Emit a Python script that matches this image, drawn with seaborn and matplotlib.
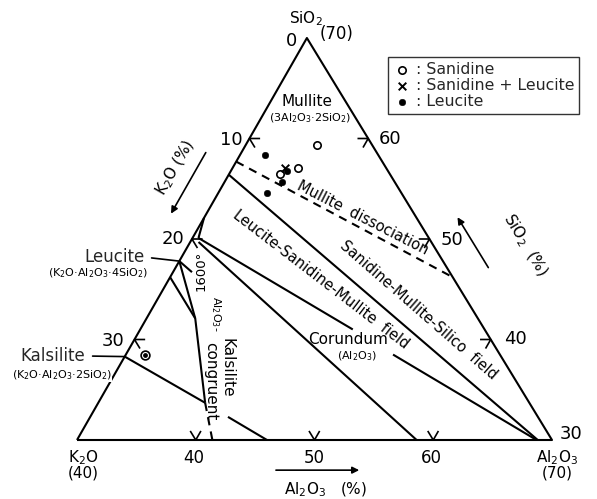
import numpy as np
import pandas as pd
import matplotlib
matplotlib.use("Agg")
import matplotlib.pyplot as plt
import seaborn as sns

# Compositions (wt%): K2O, Al2O3, SiO2
sanidine_k2o = [4.6, 7.4, 9.2]
sanidine_al2o3 = [36.0, 35.5, 34.3]
sanidine_sio2 = [59.4, 57.1, 56.5]

mixed_k2o = [8.5]
mixed_al2o3 = [34.4]
mixed_sio2 = [57.1]

leucite_k2o = [9.5, 9.5, 11.3, 8.5]
leucite_al2o3 = [32.1, 34.8, 34.1, 34.7]
leucite_sio2 = [58.4, 55.7, 54.6, 56.8]

kals_sample = (29.9, 31.6, 38.5)

# triangle corners (K2O, Al2O3, SiO2)
corners = [(40, 30, 30), (0, 70, 30), (0, 30, 70), (40, 30, 30)]

# phase boundaries, each a list of (K2O, Al2O3, SiO2)
mullite_dissoc = [(12.3, 30.0, 57.7), (0.0, 53.8, 46.2)]
silica_boundary = [(13.6, 30.0, 56.4), (1.2, 68.8, 30.0)]
mullite_upper = [(19.4, 30.5, 50.1), (11.1, 47.9, 41.0)]
mullite_lower = [(9.0, 52.5, 38.5), (1.3, 68.7, 30.0)]
corundum_line = [(19.6, 30.7, 49.7), (11.4, 58.6, 30.0)]
short_line = [(17.9, 30.0, 52.1), (19.4, 30.5, 50.1)]
isotherm = [(22.2, 30.0, 47.8), (23.8, 34.1, 42.1), (27.3, 39.0, 33.7)]
congruent = [(27.3, 39.0, 33.7), (28.6, 41.4, 30.0)]
leucite_line = [(23.8, 30.0, 46.2), (23.8, 34.1, 42.1)]
leucite_stub = [(22.2, 30.0, 47.8), (21.7, 31.6, 46.7)]
kalsilite_line = [(31.7, 30.0, 38.3), (27.3, 39.0, 33.7)]
kalsilite_line2 = [(26.1, 41.6, 32.3), (24.0, 46.0, 30.0)]

leucite_pt = (22.2, 30.0, 47.8)
kalsilite_pt = (31.7, 30.0, 38.3)

k2o_ticks = [10, 20, 30]
sio2_ticks = [60, 50, 40]
al2o3_ticks = [40, 50, 60]

APEX_X = 0.484


def tern(k2o, al2o3, sio2):
    k2o = np.asarray(k2o, float)
    al2o3 = np.asarray(al2o3, float)
    sio2 = np.asarray(sio2, float)
    tot = k2o + al2o3 + sio2
    s = (sio2 * 100 / tot - 30) / 40
    a = (al2o3 * 100 / tot - 30) / 40
    return a + APEX_X * s, s


def draw(ax, pts, **kw):
    k, a, s = zip(*pts)
    x, y = tern(k, a, s)
    ax.plot(x, y, color="black", solid_capstyle="butt", **kw)


sns.set_theme(style="white")
plt.rcParams["font.family"] = ["DejaVu Sans"]

fig = plt.figure(figsize=(5.97, 4.99), dpi=100)
ax = fig.add_axes([77 / 597, 59 / 499, 475 / 597, 402 / 499])
ax.set_xlim(0, 1)
ax.set_ylim(0, 1)
ax.axis("off")

lw = 1.5
draw(ax, corners, lw=lw, clip_on=False)
for seg in [silica_boundary, mullite_upper, mullite_lower, corundum_line,
            short_line, isotherm, leucite_line, leucite_stub,
            kalsilite_line, kalsilite_line2]:
    draw(ax, seg, lw=lw)
draw(ax, mullite_dissoc, lw=lw, ls=(0, (4, 3)))
draw(ax, congruent, lw=lw, ls=(0, (4, 3)))

# little chevron ticks
d = 0.9
for t in k2o_ticks:
    draw(ax, [(t - d, 30 + d, 70 - t), (t, 30, 70 - t), (t, 30 + d, 70 - t - d)], lw=1.2)
for t in sio2_ticks:
    draw(ax, [(d, 100 - t - d, t), (0, 100 - t, t), (d, 100 - t, t - d)], lw=1.2)
for t in al2o3_ticks:
    draw(ax, [(70 - t, t - d, 30 + d), (70 - t, t, 30), (70 - t - d, t, 30 + d)], lw=1.2)

# measured points
sx, sy = tern(sanidine_k2o, sanidine_al2o3, sanidine_sio2)
mx, my = tern(mixed_k2o, mixed_al2o3, mixed_sio2)
lx, ly = tern(leucite_k2o, leucite_al2o3, leucite_sio2)
pts = pd.DataFrame({"x": sx, "y": sy})
sns.scatterplot(data=pts, x="x", y="y", marker="o", s=28, facecolor="white",
                edgecolor="black", linewidth=1.2, label=": Sanidine", ax=ax, zorder=5)
sns.scatterplot(x=mx, y=my, marker="x", s=30, color="black", linewidth=1.4,
                label=": Sanidine + Leucite", ax=ax, zorder=6)
sns.scatterplot(x=lx, y=ly, marker="o", s=22, color="black", edgecolor="black",
                label=": Leucite", ax=ax, zorder=5)
kx, ky = tern(*kals_sample)
ax.scatter(kx, ky, s=40, facecolor="white", edgecolor="black", linewidth=1.2, zorder=5)
ax.scatter(kx, ky, s=6, color="black", zorder=6)

leg = ax.legend(loc="upper left", bbox_to_anchor=(388 / 597, 1 - 57 / 499),
                bbox_transform=fig.transFigure, fontsize=11.3, frameon=True,
                fancybox=False, edgecolor="black", handletextpad=0.3,
                borderpad=0.3, labelspacing=0.08, handlelength=1.2,
                borderaxespad=0)
leg.get_frame().set_linewidth(1.0)

txt = dict(color="black", ha="center", va="center")
# corner labels and scale numbers
ax.text(0.482, 1.047, "SiO$_2$", fontsize=11, **txt)
ax.text(0.547, 1.010, "(70)", fontsize=12, **txt)
ax.text(0.451, 0.993, "0", fontsize=13, **txt)
for (x, y), lab in zip([(0.324, 0.746), (0.202, 0.500), (0.076, 0.246)], k2o_ticks):
    ax.text(x, y, str(lab), fontsize=13, **txt)
for (x, y), lab in zip([(0.659, 0.749), (0.789, 0.498), (0.922, 0.251)], sio2_ticks):
    ax.text(x, y, str(lab), fontsize=13, **txt)
for x, lab in zip([0.246, 0.499, 0.747], al2o3_ticks):
    ax.text(x, -0.045, str(lab), fontsize=12, **txt)
ax.text(1.040, 0.015, "30", fontsize=13, **txt)
ax.text(0.013, -0.045, "K$_2$O", fontsize=11, **txt)
ax.text(0.013, -0.083, "(40)", fontsize=11, **txt)
ax.text(1.011, -0.045, "Al$_2$O$_3$", fontsize=11, **txt)
ax.text(1.011, -0.083, "(70)", fontsize=11, **txt)

# axis titles with arrows
arrow = dict(arrowstyle="-|>", lw=1.2, color="black", mutation_scale=10)
ax.annotate("", xy=(0.600, -0.075), xytext=(0.413, -0.075), arrowprops=arrow,
            annotation_clip=False)
ax.text(0.524, -0.124, "Al$_2$O$_3$   (%)", fontsize=11, **txt)
ax.annotate("", xy=(0.195, 0.557), xytext=(0.274, 0.721), arrowprops=arrow,
            annotation_clip=False)
ax.text(0.208, 0.677, "K$_2$O (%)", fontsize=11, rotation=60, rotation_mode="anchor", **txt)
ax.annotate("", xy=(0.798, 0.560), xytext=(0.869, 0.423), arrowprops=arrow,
            annotation_clip=False)
ax.text(0.943, 0.485, "SiO$_2$  (%)", fontsize=11, rotation=-58.5, rotation_mode="anchor", **txt)

# field labels
ax.text(0.484, 0.843, "Mullite", fontsize=11, **txt)
ax.text(0.491, 0.801, "(3Al$_2$O$_3$·2SiO$_2$)", fontsize=8, **txt)
ax.text(0.602, 0.552, "Mullite  dissociation", fontsize=10.5, rotation=-27,
        rotation_mode="anchor", **txt)
ax.text(0.718, 0.323, "Sanidine-Mullite-Silico  field", fontsize=10.5, rotation=-41,
        rotation_mode="anchor", **txt)
ax.text(0.514, 0.398, "Leucite-Sanidine-Mullite  field", fontsize=10.5, rotation=-37.5,
        rotation_mode="anchor", **txt)
ax.text(0.571, 0.249, "Corundum", fontsize=11, **txt)
ax.text(0.589, 0.209, "(Al$_2$O$_3$)", fontsize=8, **txt)
ax.text(0.261, 0.420, "1600°", fontsize=9.5, rotation=90, **txt)
ax.text(0.293, 0.313, "Al$_2$O$_3$-", fontsize=8, rotation=-90, **txt)
ax.text(0.316, 0.179, "Kalsilite", fontsize=11, rotation=-90, **txt)
ax.text(0.282, 0.147, "congruent", fontsize=11, rotation=-90, **txt)

# phase labels with leader lines
lpx, lpy = tern(*leucite_pt)
ax.annotate("Leucite", xy=(lpx, lpy), xytext=(0.078, 0.455), fontsize=12,
            ha="center", va="center", annotation_clip=False,
            arrowprops=dict(arrowstyle="-", lw=1.2, color="black", relpos=(1, 0.5),
                            shrinkA=3, shrinkB=0))
ax.text(0.044, 0.415, "(K$_2$O·Al$_2$O$_3$·4SiO$_2$)", fontsize=8, **txt)
kpx, kpy = tern(*kalsilite_pt)
ax.annotate("Kalsilite", xy=(kpx, kpy), xytext=(-0.051, 0.209), fontsize=12,
            ha="center", va="center", annotation_clip=False,
            arrowprops=dict(arrowstyle="-", lw=1.2, color="black", relpos=(1, 0.5),
                            shrinkA=3, shrinkB=0))
ax.text(-0.032, 0.162, "(K$_2$O·Al$_2$O$_3$·2SiO$_2$)", fontsize=8, zorder=4,
        bbox=dict(fc="white", ec="none", pad=0.5), **txt)

fig.savefig("out.png", dpi=100)
